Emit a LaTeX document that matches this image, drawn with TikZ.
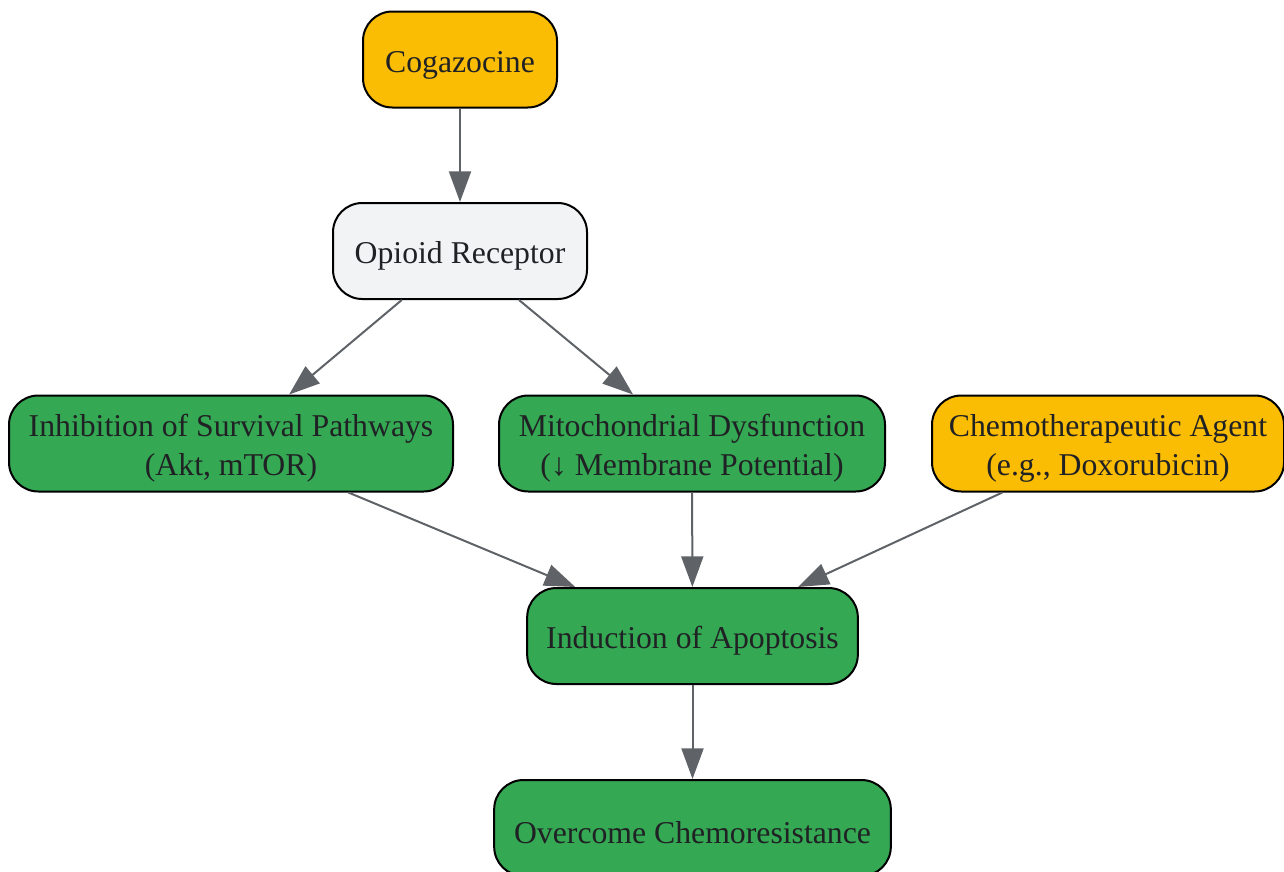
\documentclass[tikz,border=0pt]{standalone}
\usepackage{fontspec}
\setmainfont{Liberation Serif}
\usetikzlibrary{arrows.meta}
\definecolor{gy}{HTML}{FBBC04}
\definecolor{gg}{HTML}{34A853}
\definecolor{gl}{HTML}{F1F3F4}
\definecolor{ge}{HTML}{5F6368}
\definecolor{gt}{HTML}{202124}
\newcommand{\tstrut}{\rule{0pt}{24pt}}
\begin{document}
\begin{tikzpicture}[x=0.75pt,y=-0.75pt,
  box/.style={draw=black, line width=1.5pt, rounded corners=22pt, align=center,
    text=gt, inner sep=0pt, minimum height=72pt,
    font=\fontsize{23.8}{28.9}\selectfont},
  yel/.style={box, fill=gy},
  grn/.style={box, fill=gg},
  lgt/.style={box, fill=gl},
  edge/.style={draw=ge, line width=1.5pt, -{Triangle[length=23pt,width=16.5pt]}}]
\useasboundingbox (0,0) rectangle (1284,871);
\node[yel, minimum width=145.5pt] (cog) at (460,59.5) {\tstrut Cogazocine};
\node[lgt, minimum width=190.5pt] (opi) at (460,251) {\tstrut Opioid Receptor};
\node[grn, minimum width=333pt] (inh) at (231,443.5) {\tstrut Inhibition of Survival Pathways\\(Akt, mTOR)};
\node[grn, minimum width=289.5pt] (mit) at (692,443.5) {\tstrut Mitochondrial Dysfunction\\(↓ Membrane Potential)};
\node[yel, minimum width=264pt] (che) at (1108,443.5) {\tstrut Chemotherapeutic Agent\\(e.g., Doxorubicin)};
\node[grn, minimum width=248pt] (ind) at (692.5,636) {\tstrut Induction of Apoptosis};
\node[grn, minimum width=297.5pt] (ovr) at (692.5,828) {\tstrut Overcome Chemoresistance};
\draw[edge] (cog) -- (opi);
\draw[edge] (opi) -- (inh);
\draw[edge] (opi) -- (mit);
\draw[edge] (inh) -- (ind);
\draw[edge] (mit) -- (ind);
\draw[edge] (che) -- (ind);
\draw[edge] (ind) -- (ovr);
\end{tikzpicture}
\end{document}
